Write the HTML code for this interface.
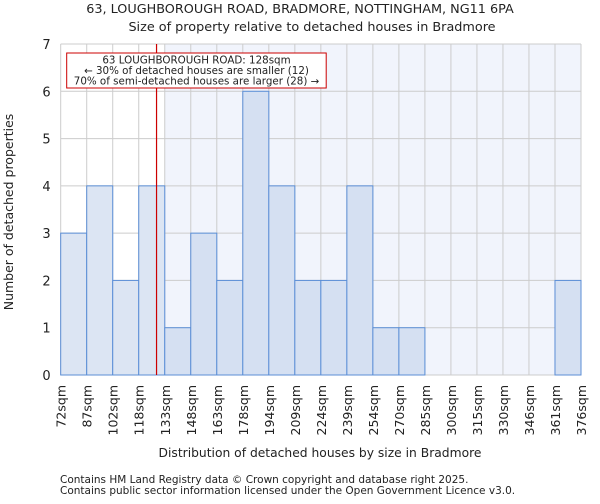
<!DOCTYPE html>
<html><head><meta charset="utf-8"><style>
body{margin:0;background:#fff;font-family:"DejaVu Sans","Liberation Sans",sans-serif}
svg text{font-family:"DejaVu Sans","Liberation Sans",sans-serif;fill:#222}
</style></head><body>
<svg id="chart" width="600" height="500" viewBox="0 0 600 500">
<text x="300" y="13" font-size="12.8" text-anchor="middle">63, LOUGHBOROUGH ROAD, BRADMORE, NOTTINGHAM, NG11 6PA</text>
<text x="312" y="31" font-size="12.8" text-anchor="middle">Size of property relative to detached houses in Bradmore</text>
<g id="plot"></g>
<text x="320" y="457" font-size="12.3" text-anchor="middle">Distribution of detached houses by size in Bradmore</text>
<text transform="translate(13,212) rotate(-90)" font-size="12.5" text-anchor="middle">Number of detached properties</text>
<text x="60" y="483" font-size="10.5">Contains HM Land Registry data © Crown copyright and database right 2025.</text>
<text x="60" y="494" font-size="10.5">Contains public sector information licensed under the Open Government Licence v3.0.</text>
</svg>
<script>
const categories=["72sqm","87sqm","102sqm","118sqm","133sqm","148sqm","163sqm","178sqm","194sqm","209sqm","224sqm","239sqm","254sqm","270sqm","285sqm","300sqm","315sqm","330sqm","346sqm","361sqm","376sqm"];
const counts=[3,4,2,4,1,3,2,6,4,2,2,4,1,1,0,0,0,0,0,2];
const yTicks=[0,1,2,3,4,5,6,7];
const binStart=72, binWidth=15.2, subjectSize=128;
const L=60.7,R=581,T=44,B=375,yMax=7;
const ns="http://www.w3.org/2000/svg";
const g=document.getElementById('plot');
const bw=(R-L)/counts.length;
const x=i=>L+i*bw;
const xv=v=>L+(v-binStart)/binWidth*bw;
const y=v=>B-(v/yMax)*(B-T);
function mk(t,a){const e=document.createElementNS(ns,t);for(const k in a)e.setAttribute(k,a[k]);g.appendChild(e);return e;}
const subX=xv(subjectSize);
const hiBin=Math.ceil((subjectSize-binStart)/binWidth);
let bg=mk('rect',{x:x(hiBin),y:T,width:R-x(hiBin),height:B-T,fill:'#f1f4fc'});


for(let i=0;i<=counts.length;i++){let l=mk('line',{x1:x(i),x2:x(i),y1:T,y2:B,stroke:'#cccccc','stroke-width':1});

}
yTicks.forEach(t=>{let l=mk('line',{x1:L,x2:R,y1:y(t),y2:y(t),stroke:'#cccccc','stroke-width':1});


let tx=mk('text',{x:L-10,y:y(t)+5,'font-size':13,'text-anchor':'end'});tx.textContent=t;

});
counts.forEach((c,i)=>{if(c<=0)return;let r=mk('rect',{x:x(i),y:y(c),width:bw,height:B-y(c),fill:i<hiBin?'#dce5f3':'#d5e0f2',stroke:'#5b8ed6','stroke-width':1});

});
categories.forEach((c,i)=>{let t=mk('text',{transform:`translate(${x(i)+5},${B+10}) rotate(-90)`,'font-size':12.5,'text-anchor':'end'});t.textContent=c;

});
let ml=mk('line',{x1:subX,x2:subX,y1:T,y2:B,stroke:'#cc0000','stroke-width':1.2});


let box=mk('rect',{x:66.7,y:53,width:259.5,height:35,fill:'#fff',stroke:'#cc0000','stroke-width':1});


["63 LOUGHBOROUGH ROAD: 128sqm","← 30% of detached houses are smaller (12)","70% of semi-detached houses are larger (28) →"].forEach((s,k)=>{let t=mk('text',{x:196.5,y:63.5+k*10.5,'font-size':10.3,'text-anchor':'middle'});t.textContent=s;

});
</script>
</body></html>
